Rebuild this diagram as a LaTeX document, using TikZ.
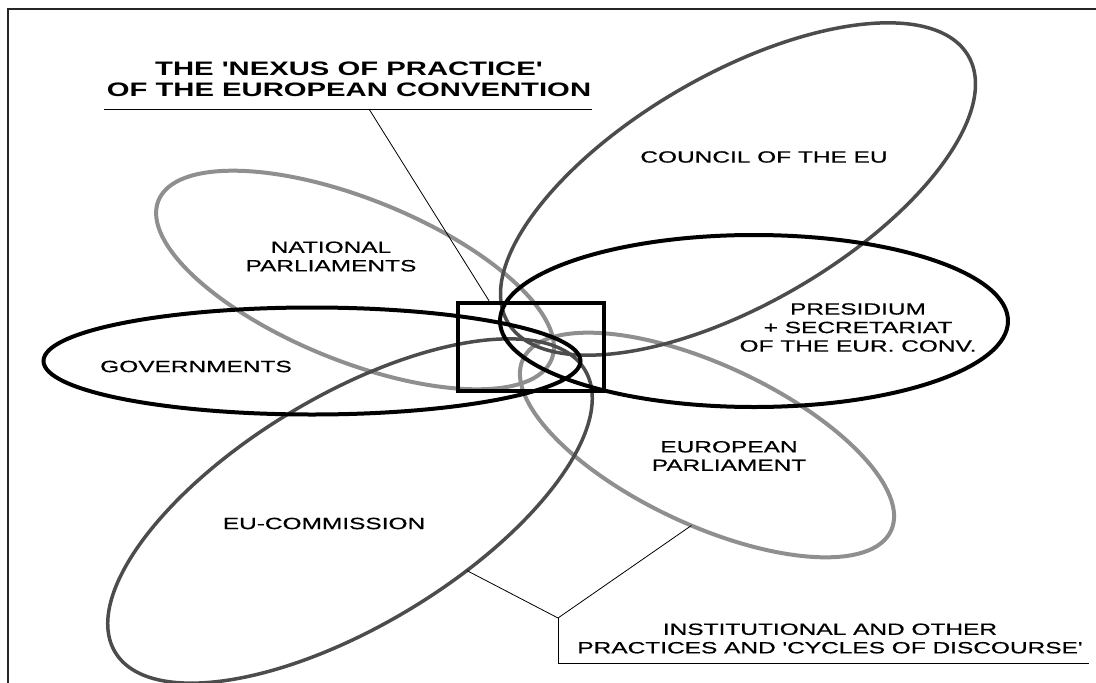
\documentclass[tikz,border=0pt]{standalone}
\usepackage{fontspec}
\setmainfont{Liberation Sans}
\newfontfamily\petalfont[FakeStretch=1.5,FakeBold=0.6,Ligatures=TeXOff]{Liberation Sans}
\newfontfamily\headfont[FakeStretch=1.5,Ligatures=TeXOff]{Liberation Sans}
\usetikzlibrary{shapes.geometric}
\definecolor{petaldark}{gray}{0.3}
\definecolor{petallight}{gray}{0.56}

\begin{document}
\begin{tikzpicture}[x=1pt, y=-1pt,
  petal/.style={draw, ellipse, inner sep=0pt, outer sep=0pt},
  blackpetal/.style={petal, line width=4pt, draw=black},
  darkpetal/.style={petal, line width=3.5pt, draw=petaldark},
  lightpetal/.style={petal, line width=4pt, draw=petallight},
  petallabel/.style={align=center, inner sep=0pt, font=\petalfont\fontsize{16.3}{18.5}\selectfont},
  titletext/.style={align=center, inner sep=0pt, font=\headfont\bfseries\fontsize{19.5}{20.5}\selectfont},
  leader/.style={line width=0.8pt}]
  \useasboundingbox (0,0) rectangle (1096,683);

  % Frame, only its top and left edges are in view
  \draw[line width=1.5pt, black!85] (8,683) -- (8,9) -- (1096,9);

  % Grey petals first
  \node[lightpetal, minimum width=424pt, minimum height=162pt, rotate=-22] (natparl) at (355,280) {};
  \node[lightpetal, minimum width=406pt, minimum height=160pt, rotate=-25] (europarl) at (707,445) {};
  \node[darkpetal, minimum width=532pt, minimum height=230pt, rotate=30] (council) at (738,189) {};
  \node[darkpetal, minimum width=548pt, minimum height=230pt, rotate=31] (commission) at (350,511) {};

  % Black petals on top
  \node[blackpetal, minimum width=537pt, minimum height=107pt] (govts) at (312,361) {};
  \node[blackpetal, minimum width=508pt, minimum height=172pt] (presidium) at (754,321) {};

  % The nexus box
  \node[draw, line width=4.5pt, inner sep=0pt, minimum width=146pt, minimum height=88pt] (nexus) at (531,347) {};

  % Petal labels
  \node[petallabel] (natparllabel) at (331,256.5) {NATIONAL\\PARLIAMENTS};
  \node[petallabel] (councillabel) at (764,157) {COUNCIL OF THE EU};
  \node[petallabel] (presidiumlabel) at (858,327.5) {PRESIDIUM\\+ SECRETARIAT\\OF THE EUR. CONV.};
  \node[petallabel] (govtslabel) at (196,366.5) {GOVERNMENTS};
  \node[petallabel] (europarllabel) at (729,456) {EUROPEAN\\PARLIAMENT};
  \node[petallabel] (commissionlabel) at (324,523.5) {EU-COMMISSION};

  % Title with its underline and leader
  \node[titletext] (title) at (349,79.5) {THE 'NEXUS OF PRACTICE'\\OF THE EUROPEAN CONVENTION};
  \draw[leader] (104,109) -- (592,109);
  \coordinate (titlefoot) at (369,109);
  \draw[leader] (titlefoot) -- ([xshift=-42pt]nexus.north);

  % Practices label with its two leaders
  \node[petallabel] (practices) at (830,638.5) {INSTITUTIONAL AND OTHER\\PRACTICES AND 'CYCLES OF DISCOURSE'};
  \coordinate (fork) at (558,618);
  \draw[leader] (commission.-58) -- (fork) -- (europarl.-76);
  \draw[leader] (fork) -- (558,663) coordinate (forkfoot) -- (1089,663);
\end{tikzpicture}
\end{document}
